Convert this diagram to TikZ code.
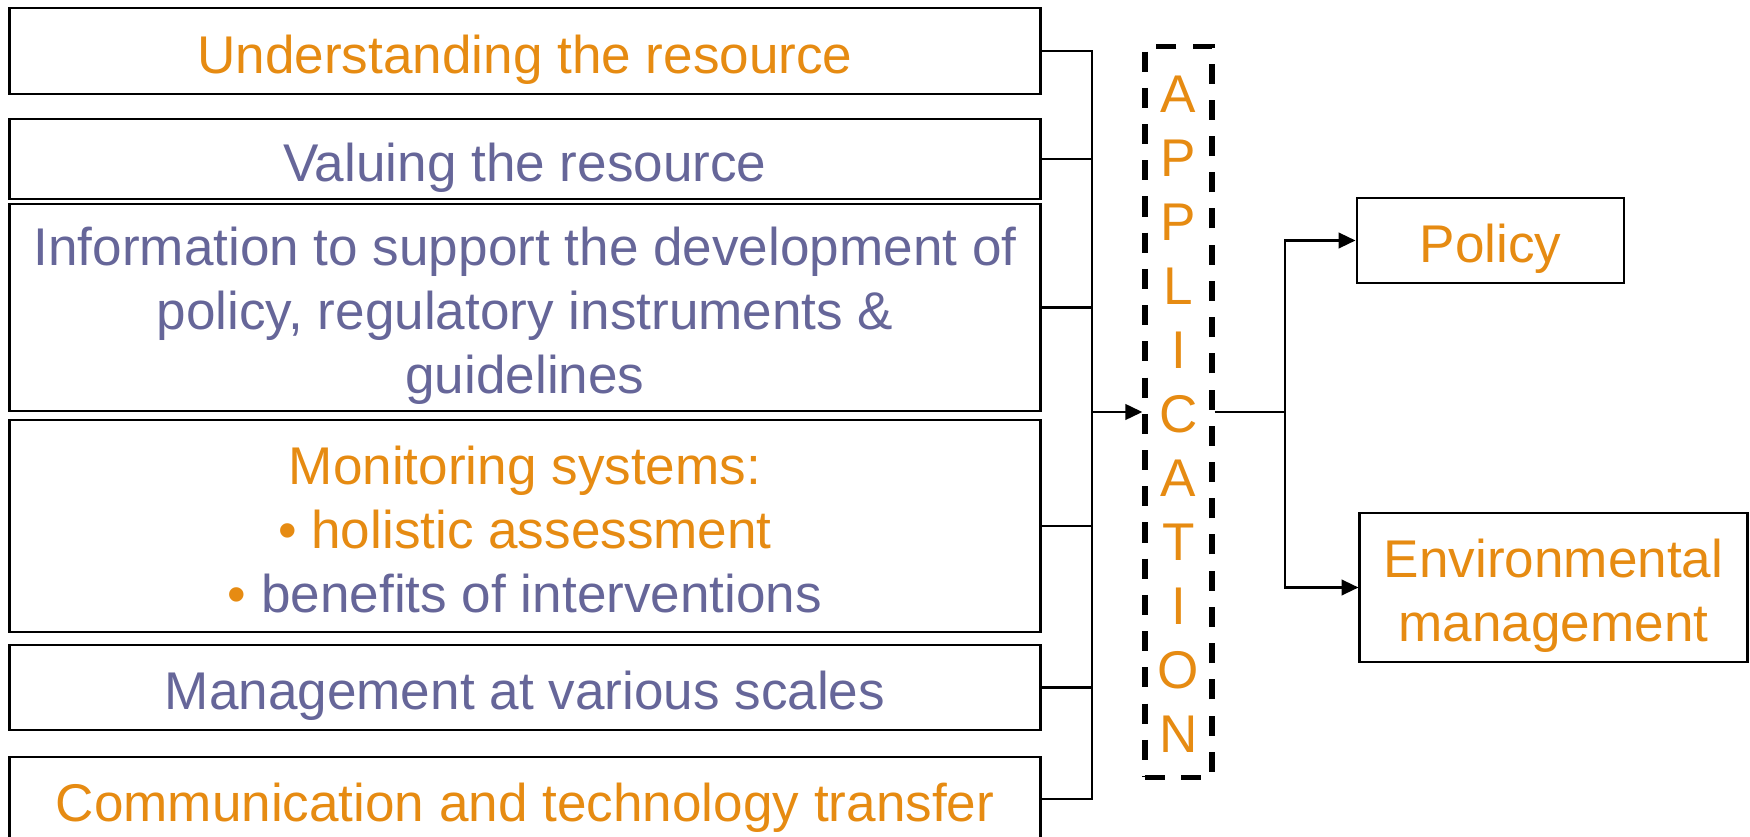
\documentclass[tikz,border=0pt]{standalone}
\usepackage{fontspec}
\setmainfont{Liberation Sans}
\usetikzlibrary{arrows.meta}
\definecolor{org}{RGB}{230,139,18}
\definecolor{pur}{RGB}{102,102,153}
\tikzset{bx/.append style={draw,rectangle,line width=0.8pt,inner sep=0pt,align=center,text height=12.6pt,text depth=0pt,font=\fontsize{15.1}{18.2}\selectfont}}
\tikzset{ln/.append style={line width=0.7pt}}
\tikzset{ar/.append style={line width=0.7pt,-{Triangle[length=4.8pt,width=4.4pt]}}}

\begin{document}
\begin{tikzpicture}[x=0.01cm,y=-0.01cm]
                \useasboundingbox (0,0) rectangle (1750,837);
                % left column
                \node[bx,minimum width=10.3cm,minimum height=0.86cm,text=org] (und) at (525,51) {Understanding the resource};
                \node[bx,minimum width=10.3cm,minimum height=0.80cm,text=pur] (val) at (525,159) {Valuing the resource};
                \node[bx,minimum width=10.3cm,minimum height=2.07cm,text=pur,text height=49pt] (inf) at (525,307.5) {Information to support the development of\\policy, regulatory instruments \&\\guidelines};
                \node[bx,minimum width=10.3cm,minimum height=2.12cm,text=org,text height=49pt] (mon) at (525,526) {Monitoring systems:\\\textbullet\ holistic assessment\\\textbullet\ \textcolor{pur}{benefits of interventions}};
                \node[bx,minimum width=10.3cm,minimum height=0.85cm,text=pur] (man) at (525,687.5) {Management at various scales};
                \node[bx,minimum width=10.3cm,minimum height=0.84cm,text=org] (com) at (525,799) {Communication and technology transfer};
                \node[bx,dashed,line width=1.5pt,dash pattern=on 5.7pt off 4.6pt,minimum width=0.67cm,minimum height=7.30cm,text=org,text height=193.5pt] (app) at (1178.5,412) {A\\P\\P\\L\\I\\C\\A\\T\\I\\O\\N};
                % right column
                \node[bx,minimum width=2.67cm,minimum height=0.85cm,text=org] (pol) at (1490.5,240.5) {Policy};
                \node[bx,minimum width=3.87cm,minimum height=1.49cm,text=org,text height=30.8pt] (env) at (1553.5,587.5) {Environmental\\management};
                \coordinate (join) at (1092,412);
                \coordinate (split) at (1285,412);
                \draw[ln] (und.east) -| (join);
                \draw[ln] (val.east) -| (join);
                \draw[ln] (inf.east) -| (join);
                \draw[ln] (mon.east) -| (join);
                \draw[ln] (man.east) -| (join);
                \draw[ln] (com.east) -| (join);
                \draw[ar] (join) -- (app.west);
                \draw[ln] (app.east) -- (split);
                \draw[ar] (split) |- (pol.west);
                \draw[ar] (split) |- (env.west);
            \end{tikzpicture}
\end{document}
